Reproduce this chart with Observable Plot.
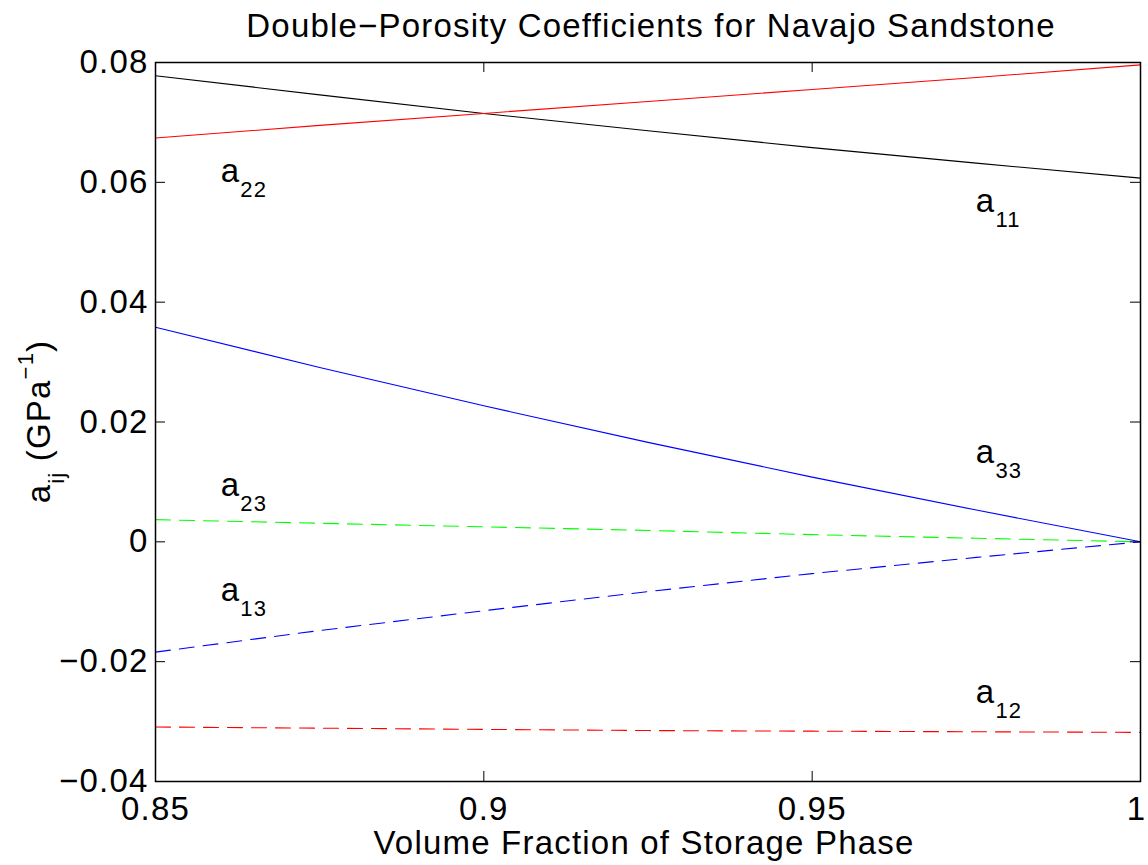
<!DOCTYPE html>
<html><head><meta charset="utf-8">
<script src="https://cdn.jsdelivr.net/npm/d3@7"></script>
<script src="https://cdn.jsdelivr.net/npm/@observablehq/plot@0.6"></script>
<style>body{margin:0;background:#fff}</style>
</head><body><div id="chart"></div>
<script>
// ---- data ----
const title = "Double\u2212Porosity Coefficients for Navajo Sandstone";
const xLabel = "Volume Fraction of Storage Phase";
const fraction = [0.85, 0.875, 0.9, 0.925, 0.95, 0.975, 1.0];
const a11 = [0.0778, 0.0746, 0.0715, 0.0686, 0.0658, 0.0632, 0.0607];
const a22 = [0.0674, 0.0695, 0.0715, 0.0735, 0.0755, 0.0775, 0.0796];
const a33 = [0.0358, 0.0291, 0.0227, 0.0166, 0.0108, 0.0053, 0.0];
const a23 = [0.0037, 0.0031, 0.0025, 0.0019, 0.0012, 0.0006, 0.0];
const a13 = [-0.0184, -0.0148, -0.0115, -0.0083, -0.0053, -0.0026, 0.0];
const a12 = [-0.0309, -0.0311, -0.0313, -0.0315, -0.0316, -0.0317, -0.0318];
const seriesNames = ["a11", "a22", "a33", "a23", "a13", "a12"];
const seriesValues = [a11, a22, a33, a23, a13, a12];
const seriesSubs = ["11", "22", "33", "23", "13", "12"];
const labelX = [0.975, 0.86, 0.975, 0.86, 0.86, 0.975];
const labelY = [0.055, 0.06, 0.013, 0.0075, -0.01, -0.027];
const xTicks = [0.85, 0.9, 0.95, 1];
const xTickLabels = ["0.85", "0.9", "0.95", "1"];
const yTicks = [-0.04, -0.02, 0, 0.02, 0.04, 0.06, 0.08];
const yTickLabels = ["\u22120.04", "\u22120.02", "0", "0.02", "0.04", "0.06", "0.08"];

// ---- styles ----
const colors = {a11: "#000000", a22: "#ff0000", a33: "#0000ff", a23: "#00ff00", a13: "#0000ff", a12: "#ff0000"};
const dashed = {a11: false, a22: false, a33: false, a23: true, a13: true, a12: true};
const W = 1148, H = 865, mL = 155, mR = 8, mT = 62, mB = 84;
const plotW = W - mL - mR, plotH = H - mT - mB, tickLen = 10;
const FONT = "'Liberation Sans', Arial, Helvetica, sans-serif";

const rows = seriesNames.flatMap((name, k) =>
  fraction.map((f, i) => ({series: name, x: f, y: seriesValues[k][i]})));

const lineMarks = seriesNames.map(name =>
  Plot.line(rows.filter(r => r.series === name), {
    x: "x", y: "y", stroke: colors[name], strokeWidth: 1.1,
    strokeDasharray: dashed[name] ? "15,9" : null
  }));

const fmtX = d => xTickLabels[xTicks.indexOf(d)];

const plot = Plot.plot({
  width: W, height: H,
  marginLeft: mL, marginRight: mR, marginTop: mT, marginBottom: mB,
  style: {fontFamily: FONT, fontSize: "33px", letterSpacing: "1.2px", color: "#000", background: "#fff"},
  x: {domain: [0.85, 1]},
  y: {domain: [-0.04, 0.08]},
  marks: [
    ...lineMarks,
    Plot.tickY(yTicks, {y: d => d, stroke: "#000", insetRight: plotW - tickLen}),
    Plot.tickY(yTicks, {y: d => d, stroke: "#000", insetLeft: plotW - tickLen}),
    Plot.tickX(xTicks, {x: d => d, stroke: "#000", insetBottom: plotH - tickLen}),
    Plot.tickX(xTicks, {x: d => d, stroke: "#000", insetTop: plotH - tickLen}),
    Plot.frame({stroke: "#000", strokeWidth: 1.5}),
    Plot.axisX(xTicks.slice(0, -1), {tickSize: 0, tickPadding: 15, label: null, fontSize: 33, tickFormat: fmtX}),
    Plot.axisX(xTicks.slice(-1), {tickSize: 0, tickPadding: 15, label: null, fontSize: 33, dx: -4, tickFormat: fmtX}),
    Plot.axisY(yTicks, {tickSize: 0, tickPadding: 7, label: null, fontSize: 33,
      tickFormat: d => yTickLabels[yTicks.indexOf(d)]}),
    Plot.text([title], {text: d => d, frameAnchor: "top", lineAnchor: "bottom", dy: -26, dx: 3, fontSize: 33}),
    Plot.text([xLabel], {text: d => d, frameAnchor: "bottom", lineAnchor: "bottom", dy: 72, dx: -4, fontSize: 33})
  ]
});

document.getElementById("chart").appendChild(plot);

// ---- annotations with sub/superscripts ----
const svg = d3.select(plot);
const sx = plot.scale("x"), sy = plot.scale("y");
const g = svg.append("g").attr("font-family", FONT).attr("fill", "#000");
seriesNames.forEach((name, k) => {
  const t = g.append("text")
    .attr("x", sx.apply(labelX[k]))
    .attr("y", sy.apply(labelY[k]))
    .attr("text-anchor", "start")
    .attr("font-size", 33);
  t.append("tspan").text("a");
  t.append("tspan").attr("dy", 15).attr("font-size", 22).text(seriesSubs[k]);
});

// y-axis label: a_ij (GPa^-1)
const yl = g.append("text")
  .attr("transform", `translate(50,${mT + plotH / 2}) rotate(-90)`)
  .attr("text-anchor", "middle")
  .attr("font-size", 33);
yl.append("tspan").text("a");
yl.append("tspan").attr("dy", 14).attr("font-size", 22).text("ij");
yl.append("tspan").attr("dy", -14).text(" (GPa");
yl.append("tspan").attr("dy", -17).attr("font-size", 22).text("\u22121");
yl.append("tspan").attr("dy", 17).text(")");
</script>
</body></html>
